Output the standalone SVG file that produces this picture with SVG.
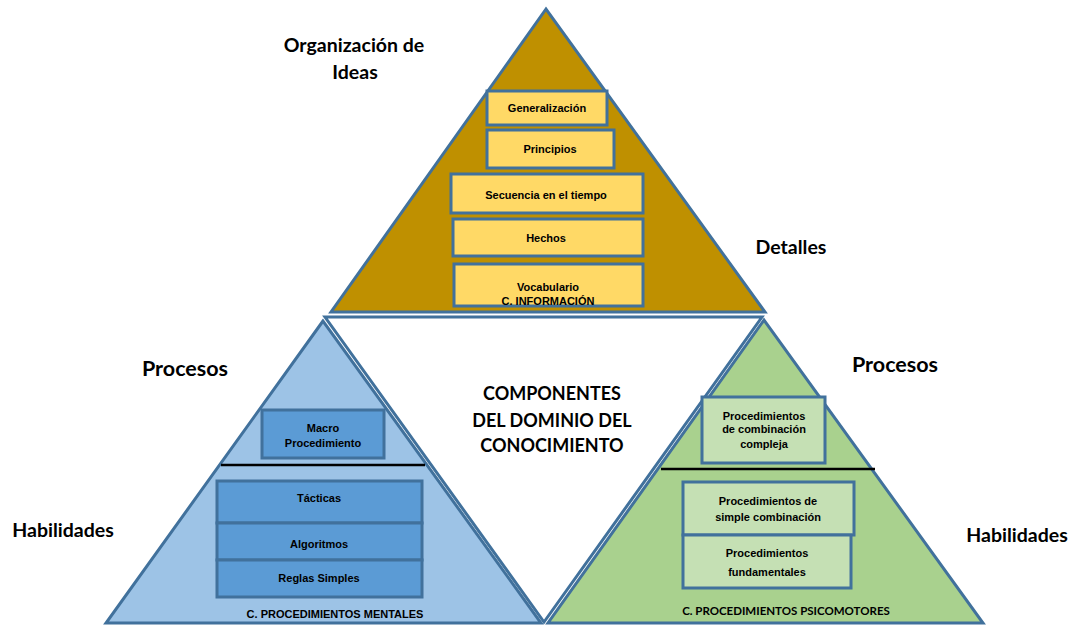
<svg xmlns="http://www.w3.org/2000/svg" width="1073" height="626" viewBox="0 0 1073 626">
<style>
.tri{stroke:#41719c;stroke-width:3;stroke-linejoin:miter}
.box{stroke:#41719c;stroke-width:3}
.bl{font-family:"Liberation Sans Narrow","Arial Narrow","Liberation Sans",sans-serif;font-weight:bold;font-size:11px;fill:#000;text-anchor:middle}
.hd{font-family:Lato,"Open Sans",sans-serif;font-weight:bold;fill:#000;text-anchor:middle}
.div{stroke:#000;stroke-width:2.5}
</style>
<rect width="1073" height="626" fill="#fff"/>
<g id="top-pyramid">
<polygon class="tri" points="546,9 331,312 765,312" fill="#bf9000"/>
</g>
<g id="center">
<polygon class="tri" points="325,317 762,317 544,622" fill="#fff"/>
<text class="hd" font-size="18" x="552" y="400">COMPONENTES</text>
<text class="hd" font-size="18" x="552" y="427">DEL DOMINIO DEL</text>
<text class="hd" font-size="18" x="552" y="452">CONOCIMIENTO</text>
</g>
<g id="left-pyramid">
<polygon class="tri" points="323,321 106,623 541,623" fill="#9dc3e6"/>
</g>
<g id="right-pyramid">
<polygon class="tri" points="764,320 548,623 983,623" fill="#a9d18e"/>
</g>
<g id="generalizacion"><rect class="box" x="487" y="91" width="120" height="34" fill="#ffd966"/><text class="bl" x="547" y="112">Generalización</text></g>
<g id="principios"><rect class="box" x="487" y="130" width="127" height="38" fill="#ffd966"/><text class="bl" x="550" y="153">Principios</text></g>
<g id="secuencia"><rect class="box" x="451" y="174" width="192" height="39" fill="#ffd966"/><text class="bl" x="546" y="199">Secuencia en el tiempo</text></g>
<g id="hechos"><rect class="box" x="453" y="219" width="190" height="37" fill="#ffd966"/><text class="bl" x="546" y="242">Hechos</text></g>
<g id="vocabulario"><rect class="box" x="454" y="264" width="189" height="42" fill="#ffd966"/><text class="bl" x="548" y="291">Vocabulario</text><text class="bl" x="548" y="305">C. INFORMACIÓN</text></g>
<g id="connectors">
<line class="div" x1="221" y1="465" x2="425" y2="465"/>
<line class="div" x1="661" y1="469" x2="875" y2="469"/>
</g>
<g id="macro"><rect class="box" x="262" y="410" width="122" height="48" fill="#5b9bd5"/><text class="bl" x="323" y="432">Macro</text><text class="bl" x="323" y="447">Procedimiento</text></g>
<g id="tacticas"><rect class="box" x="217" y="481" width="205" height="42" fill="#5b9bd5"/><text class="bl" x="319" y="502">Tácticas</text></g>
<g id="algoritmos"><rect class="box" x="217" y="523" width="205" height="37" fill="#5b9bd5"/><text class="bl" x="319" y="548">Algoritmos</text></g>
<g id="reglas"><rect class="box" x="217" y="560" width="205" height="37" fill="#5b9bd5"/><text class="bl" x="319" y="582">Reglas Simples</text></g>
<text class="bl" x="335" y="618">C. PROCEDIMIENTOS MENTALES</text>
<g id="compleja"><rect class="box" x="702" y="397" width="123" height="66" fill="#c5e0b4"/><text class="bl" x="764" y="420">Procedimientos</text><text class="bl" x="764" y="433">de combinación</text><text class="bl" x="764" y="448">compleja</text></g>
<g id="simple"><rect class="box" x="683" y="482" width="171" height="53" fill="#c5e0b4"/><text class="bl" x="768" y="505">Procedimientos de</text><text class="bl" x="768" y="521">simple combinación</text></g>
<g id="fundamentales"><rect class="box" x="683" y="535" width="168" height="53" fill="#c5e0b4"/><text class="bl" x="767" y="557">Procedimientos</text><text class="bl" x="767" y="576">fundamentales</text></g>
<text class="hd" font-size="11.5" x="786" y="615">C. PROCEDIMIENTOS PSICOMOTORES</text>
<g id="labels">
<text class="hd" font-size="19.5" x="354" y="52">Organización de</text>
<text class="hd" font-size="19.5" x="355" y="79">Ideas</text>
<text class="hd" font-size="19.5" x="791" y="254">Detalles</text>
<text class="hd" font-size="21.5" x="185" y="376">Procesos</text>
<text class="hd" font-size="21.5" x="895" y="372">Procesos</text>
<text class="hd" font-size="19.5" x="63" y="537">Habilidades</text>
<text class="hd" font-size="19.5" x="1017" y="542">Habilidades</text>
</g>
</svg>
